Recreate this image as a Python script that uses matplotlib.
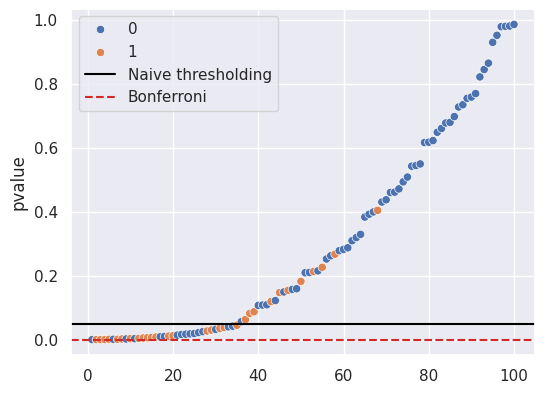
import numpy as np
import pandas as pd
import matplotlib
matplotlib.use("Agg")
import matplotlib.pyplot as plt
import seaborn as sns

sns.set_theme()

# p-values ordenados, indice 1..100
pvalues = [
    0.001, 0.001, 0.001, 0.001, 0.002, 0.002, 0.002, 0.003, 0.003, 0.004,
    0.004, 0.005, 0.006, 0.007, 0.008, 0.009, 0.010, 0.011, 0.012, 0.013,
    0.015, 0.017, 0.018, 0.019, 0.020, 0.023, 0.026, 0.028, 0.031, 0.033,
    0.036, 0.039, 0.041, 0.043, 0.046, 0.057, 0.064, 0.083, 0.088, 0.108,
    0.109, 0.110, 0.120, 0.123, 0.148, 0.150, 0.155, 0.158, 0.160, 0.183,
    0.210, 0.211, 0.214, 0.216, 0.227, 0.253, 0.263, 0.268, 0.279, 0.283,
    0.288, 0.310, 0.320, 0.330, 0.384, 0.393, 0.400, 0.405, 0.431, 0.438,
    0.461, 0.462, 0.472, 0.494, 0.509, 0.543, 0.545, 0.550, 0.617, 0.618,
    0.623, 0.649, 0.661, 0.678, 0.680, 0.698, 0.728, 0.735, 0.755, 0.759,
    0.770, 0.822, 0.845, 0.865, 0.930, 0.952, 0.979, 0.980, 0.981, 0.986,
]
grupo = [
    0, 1, 1, 1, 1, 0, 1, 1, 0, 1,
    0, 1, 1, 1, 1, 1, 0, 0, 1, 1,
    0, 0, 0, 0, 0, 0, 0, 1, 1, 0,
    1, 1, 0, 0, 1, 0, 1, 1, 1, 0,
    0, 0, 1, 0, 1, 0, 1, 0, 0, 1,
    0, 0, 1, 0, 1, 0, 0, 1, 0, 0,
    0, 0, 0, 0, 0, 0, 0, 1, 0, 0,
    0, 0, 0, 0, 0, 0, 0, 0, 0, 0,
    0, 0, 0, 0, 0, 0, 0, 0, 0, 0,
    0, 0, 0, 0, 0, 0, 0, 0, 0, 0,
]
alpha = 0.05
n_tests = len(pvalues)

df = pd.DataFrame({"idx": np.arange(1, n_tests + 1), "pvalue": pvalues, "grupo": grupo})

fig = plt.figure(figsize=(5.46, 3.94), dpi=100)
ax = fig.add_axes([0.13, 0.098, 0.85, 0.88])
sns.scatterplot(data=df, x="idx", y="pvalue", hue="grupo", ax=ax)
ax.axhline(alpha, color="black", label="Naive thresholding")
ax.axhline(alpha / n_tests, color="#d62728", linestyle="--", label="Bonferroni")
ax.set_xlabel("")
ax.set_xticks([0, 20, 40, 60, 80, 100])
ax.legend(loc="upper left")

plt.savefig("out.png", dpi=100)
